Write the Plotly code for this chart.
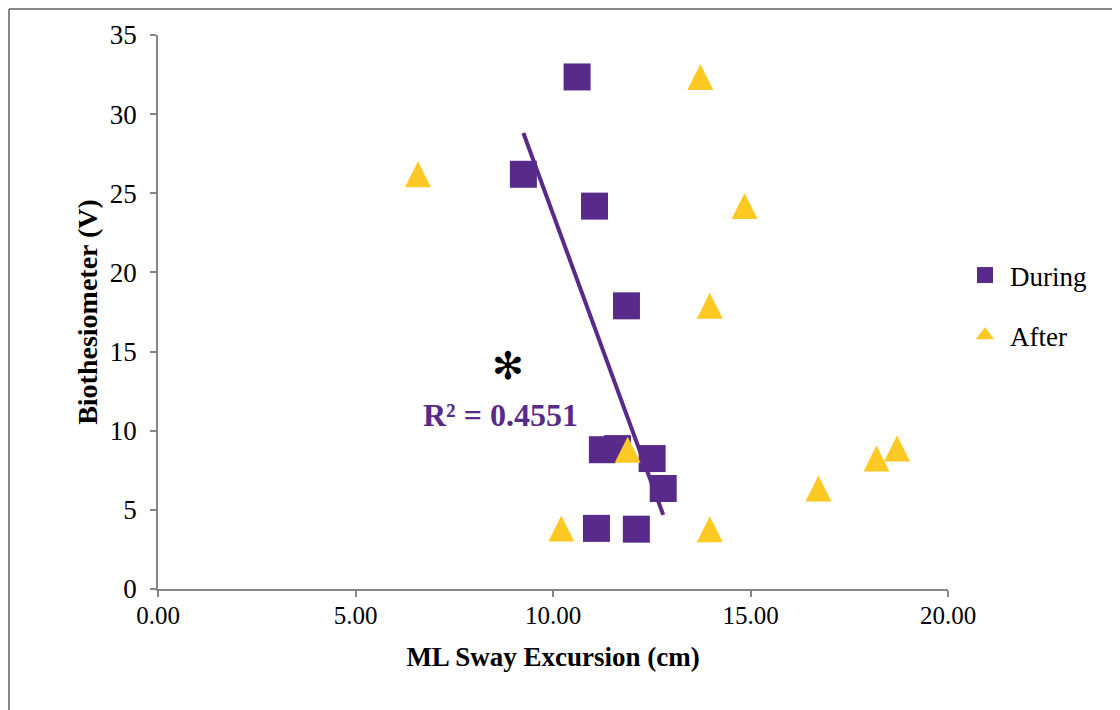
import numpy as np
import plotly.graph_objects as go

# ---- data ----
during_x = [10.61, 9.25, 11.05, 11.86, 11.25, 11.63, 12.51, 12.79, 11.10, 12.11]
during_y = [32.35, 26.20, 24.19, 17.89, 8.80, 8.87, 8.24, 6.35, 3.83, 3.78]
after_x = [13.73, 6.58, 14.85, 13.97, 11.89, 18.71, 18.19, 16.72, 10.21, 13.97]
after_y = [32.35, 26.20, 24.19, 17.89, 8.80, 8.87, 8.24, 6.35, 3.83, 3.78]
series_names = ["During", "After"]
r2_label = "R² = 0.4551"
x_ticks = [0, 5, 10, 15, 20]
y_ticks = [0, 5, 10, 15, 20, 25, 30, 35]

PURPLE = "#582A8A"
GOLD = "#FFC923"
AXIS = "#868686"
FONT = "Liberation Serif, Times New Roman, serif"

OFF = 8  # page body margin
W, H = 1120, 710
# plot area in page pixels: x 158..948, y 35..589
L = 158 - OFF
T = 35 - OFF
R = W - (948 - OFF)
B = H - (589 - OFF)
pw, ph = W - L - R, H - T - B


def px2paper_x(px):
    return (px - OFF - L) / pw


def px2paper_y(py):
    return (H - B - (py - OFF)) / ph


# linear trendline for "During"
slope, icpt = np.polyfit(during_x, during_y, 1)
tx = np.array([min(during_x), max(during_x)])
ty = slope * tx + icpt

fig = go.Figure()
fig.add_trace(go.Scatter(
    x=tx, y=ty, mode="lines", line=dict(color=PURPLE, width=4),
    showlegend=False, hoverinfo="skip"))
fig.add_trace(go.Scatter(
    x=during_x, y=during_y, mode="markers", name=series_names[0],
    showlegend=False,
    marker=dict(symbol="square", size=27, color=PURPLE, line=dict(width=0))))
fig.add_trace(go.Scatter(
    x=after_x, y=after_y, mode="markers", name=series_names[1],
    showlegend=False,
    marker=dict(symbol="arrow-down", angle=180, standoff=13, size=26,
                color=GOLD, line=dict(width=0))))
# legend entries
fig.add_trace(go.Scatter(
    x=[None], y=[None], mode="markers", name=series_names[0], legendgroup="d",
    marker=dict(symbol="square", size=16, color=PURPLE, line=dict(width=0))))
fig.add_trace(go.Scatter(
    x=[None], y=[None], mode="markers", name=series_names[1], legendgroup="a",
    marker=dict(symbol="triangle-up", size=16, color=GOLD, line=dict(width=0))))

fig.add_annotation(x=8.68, y=10.97, text="<b>" + r2_label + "</b>", showarrow=False,
                   font=dict(family=FONT, size=32, color=PURPLE))
fig.add_annotation(x=8.86, y=14.06, text="✻", showarrow=False,
                   font=dict(family="DejaVu Sans", size=38, color="black"))

# outer frame (left and top edges visible)
fig.add_shape(type="line", xref="paper", yref="paper",
              x0=px2paper_x(OFF + 1), x1=px2paper_x(OFF + 1), y0=px2paper_y(OFF + 1), y1=px2paper_y(740),
              line=dict(color="#888888", width=2))
fig.add_shape(type="line", xref="paper", yref="paper",
              x0=px2paper_x(OFF + 1), x1=px2paper_x(1140), y0=px2paper_y(OFF + 1), y1=px2paper_y(OFF + 1),
              line=dict(color="#888888", width=2))

axis_common = dict(showgrid=False, zeroline=False, showline=True, linecolor=AXIS,
                   linewidth=1.5, ticks="outside", ticklen=6, tickcolor=AXIS,
                   tickwidth=1.5)
fig.update_xaxes(range=[0, 20], tickvals=x_ticks, tickformat=".2f",
                 ticklabelstandoff=-3,
                 tickfont=dict(family=FONT, size=25, color="black"),
                 title=dict(text="<b>ML Sway Excursion (cm)</b>",
                            font=dict(family=FONT, size=27, color="black"), standoff=19),
                 **axis_common)
fig.update_yaxes(range=[0, 35], tickvals=y_ticks,
                 ticklabelstandoff=8,
                 tickfont=dict(family=FONT, size=27, color="black"),
                 title=dict(text="<b>Biothesiometer (V)</b>",
                            font=dict(family=FONT, size=28, color="black"), standoff=4),
                 **axis_common)

fig.update_layout(
    width=W, height=H,
    margin=dict(l=L, r=R, t=T, b=B, autoexpand=False),
    plot_bgcolor="white", paper_bgcolor="white",
    font=dict(family=FONT, color="black"),
    legend=dict(x=px2paper_x(960), y=px2paper_y(251), xanchor="left", yanchor="top",
                font=dict(family=FONT, size=27, color="black"),
                itemwidth=40, tracegroupgap=22, bgcolor="rgba(0,0,0,0)"),
)

fig.write_html("out.html")
